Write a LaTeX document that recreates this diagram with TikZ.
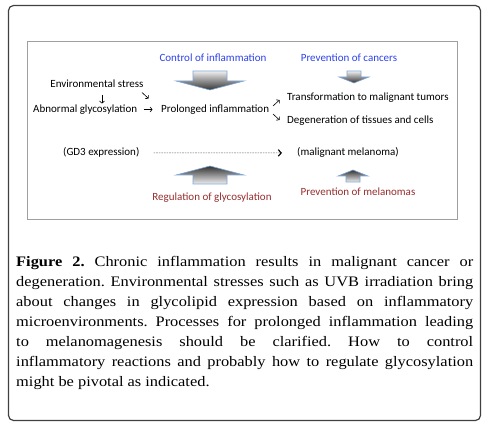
\documentclass[tikz,border=0pt]{standalone}
\usepackage{fontspec}
\setmainfont{Liberation Serif}
\newfontfamily\capfont[FakeStretch=1.13]{Liberation Serif}
\newfontfamily\diagfont{Carlito}
\usetikzlibrary{arrows.meta}
\definecolor{ctrlblue}{RGB}{45,65,235}
\definecolor{regred}{RGB}{150,45,45}
\definecolor{arrowedge}{RGB}{125,165,215}
\newcommand{\capline}[1]{\makebox[457pt][s]{#1}}
\frenchspacing
\begin{document}
\begin{tikzpicture}[x=1pt,y=-1pt,
  lbl/.style={font=\diagfont\fontsize{11}{13}\selectfont, inner sep=0pt, anchor=base},
  thinarrow/.style={-{To[length=2.6pt,width=5.2pt]}, line width=0.6pt},
  downarrow/.style={top color=gray!12, bottom color=black!80, draw=arrowedge, line width=0.6pt},
  uparrow/.style={top color=black!80, bottom color=gray!12, draw=arrowedge, line width=0.6pt}]
\useasboundingbox (0,0) rectangle (488,425);
% frames
\draw[line width=1.2pt, black!75, rounded corners=5pt] (8.5,5.5) rectangle (480.5,420.5);
\draw[gray!75, line width=0.8pt] (27.5,41) rectangle (457,219);
% labels
\node[lbl, text=ctrlblue] (ctrl) at (213,62) {Control of inflammation};
\node[lbl, text=ctrlblue] (prevc) at (349,62) {Prevention of cancers};
\node[lbl] (env) at (97,88) {Environmental stress};
\node[lbl, anchor=base west] (abn) at (33,113) {Abnormal glycosylation};
\node[lbl, anchor=base west] (prol) at (161,113) {Prolonged inflammation};
\node[lbl, anchor=base west] (trans) at (287,101) {Transformation to malignant tumors};
\node[lbl, anchor=base west] (degen) at (287,124) {Degeneration of tissues and cells};
\node[lbl, anchor=base west] (gd3) at (63,156) {(GD3 expression)};
\node[lbl, anchor=base west] (mm) at (297,156) {(malignant melanoma)};
\node[lbl, text=regred] (reg) at (212,201) {Regulation of glycosylation};
\node[lbl, text=regred] (prevm) at (358,196) {Prevention of melanomas};
% small glyph-like arrows
\coordinate (d1s) at (102,95); \coordinate (d1e) at (102,103.5);
\coordinate (d2s) at (142,92.5); \coordinate (d2e) at (148.5,98.5);
\coordinate (d3s) at (143.5,109.5); \coordinate (d3e) at (152.5,109.5);
\coordinate (d4s) at (273,106); \coordinate (d4e) at (279.5,100);
\coordinate (d5s) at (273,114); \coordinate (d5e) at (279.5,120);
\draw[thinarrow] (d1s) -- (d1e);
\draw[thinarrow] (d2s) -- (d2e);
\draw[thinarrow] (d3s) -- (d3e);
\draw[thinarrow] (d4s) -- (d4e);
\draw[thinarrow] (d5s) -- (d5e);
% dashed arrow
\draw[gray!75!black, line width=0.5pt, dash pattern=on 1.6pt off 1pt,
  -{Straight Barb[black, length=3pt, width=6.5pt, line width=1.1pt]}]
  ([xshift=14pt]gd3.east) -- ([xshift=-15pt]mm.west);
% block arrows
\shadedraw[downarrow] (193,71) -- (227,71) -- (227,81) -- (244,81) -- (210,90) -- (176,81) -- (193,81) -- cycle;
\shadedraw[downarrow] (347,71) -- (361,71) -- (361,77) -- (369,77) -- (354,83) -- (339,77) -- (347,77) -- cycle;
\shadedraw[uparrow] (210,166) -- (244,175) -- (227,175) -- (227,184) -- (193,184) -- (193,175) -- (176,175) -- cycle;
\shadedraw[uparrow] (353,170) -- (368,176) -- (360,176) -- (360,182) -- (346,182) -- (346,176) -- (338,176) -- cycle;
% caption
\node[anchor=base west, inner sep=0pt, align=left, font=\capfont\fontsize{14.5}{20}\selectfont] (cap) at (16,386)
{\capline{\textbf{Figure 2.} Chronic inflammation results in malignant cancer or}\\
\capline{degeneration. Environmental stresses such as UVB irradiation bring}\\
\capline{about changes in glycolipid expression based on inflammatory}\\
\capline{microenvironments. Processes for prolonged inflammation leading}\\
\capline{to melanomagenesis should be clarified. How to control}\\
\capline{inflammatory reactions and probably how to regulate glycosylation}\\
might be pivotal as indicated.};
\end{tikzpicture}
\end{document}
